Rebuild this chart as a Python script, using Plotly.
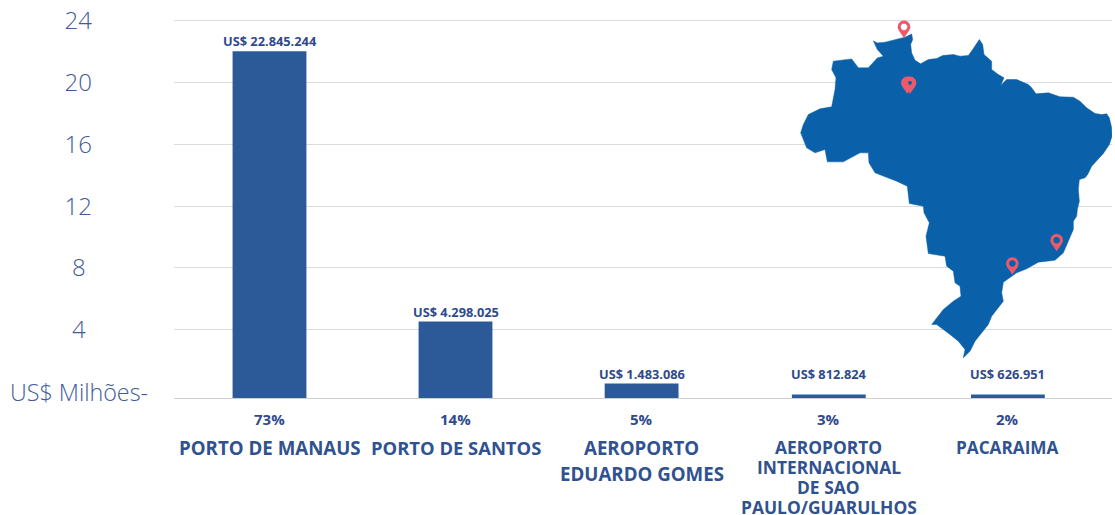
import numpy as np
import plotly.graph_objects as go

# ---- data -------------------------------------------------------------
categories = ["PORTO DE MANAUS", "PORTO DE SANTOS", "AEROPORTO EDUARDO GOMES",
              "AEROPORTO INTERNACIONAL DE SAO PAULO/GUARULHOS", "PACARAIMA"]
category_lines = [["PORTO DE MANAUS"], ["PORTO DE SANTOS"], ["AEROPORTO", "EDUARDO GOMES"],
                  ["AEROPORTO", "INTERNACIONAL", "DE SAO", "PAULO/GUARULHOS"], ["PACARAIMA"]]
bar_heights = [22.42, 4.95, 0.94, 0.23, 0.23]   # as drawn in the picture, above the baseline
value_labels = ["US$ 22.845.244", "US$ 4.298.025", "US$ 1.483.086", "US$ 812.824", "US$ 626.951"]
share_labels = ["73%", "14%", "5%", "3%", "2%"]
y_ticks = [4, 8, 12, 16, 20, 24]
y_unit_label = "US$ Milhões-"

# Brazil silhouette, in local map units
map_x = [250,262,285,320,345,365,368,362,365,375,392,415,440,458,490,510,535,548,568,578,582,605,605,625,642,632,650,680,715,725,738,775,810,850,870,890,915,935,950,958,965,966,958,940,920,905,893,885,868,865,868,862,860,850,850,835,820,795,745,710,680,640,635,640,625,605,595,575,555,540,520,525,505,480,460,440,425,440,460,490,513,510,495,490,470,465,415,408,412,418,402,400,358,352,320,255,237,235,210,160,112,105,75,50,32,40,55,90,125,135,138,125,130,185,205,235,262,280,262,250]
map_y = [124,130,128,120,113,103,120,135,160,182,193,180,177,168,165,170,168,150,120,135,165,185,210,225,235,258,240,240,255,265,283,280,292,293,305,325,342,345,343,355,385,410,435,462,482,500,525,535,540,570,605,630,650,665,690,725,760,782,788,808,820,848,880,905,925,950,975,1000,1025,1055,1075,1050,1025,1005,990,975,975,955,930,905,890,860,850,815,800,770,762,710,690,670,640,620,612,560,545,520,490,460,460,487,487,450,460,445,400,375,345,328,322,270,235,210,185,178,205,205,175,170,150,124]
pin_x = [342, 352, 360, 800, 667]
pin_y = [82, 250, 250, 722, 792]
pin_hole_color = ["#ffffff", "#0a60a9", "#0a60a9", "#0a60a9", "#0a60a9"]
pin_hole_radius = [10, 0, 6, 10, 10]

# ---- style / layout ----------------------------------------------------
W, H = 1115, 515
unit_px = (392.2 - 21) / 24          # pixels per axis unit
L, R, T, B = 174, 1112, 21 - 0.1 * unit_px, 398.5
FONT = "Open Sans"
TICK = "#3f5b9a"
NAVY = "#2f4a8c"
CAT = "#30528f"
BAR = "#2c5a98"
MAP = "#0a60a9"
PIN = "#ea5a6a"
GRID = "#dcdcdc"
base = -(B - 392.2) / unit_px        # baseline sits just under zero
step = 184.6                         # pixels per category
shift = [0, 1.4, 2.9, 5.5, 0]        # horizontal nudges of the columns, px
label_gap = [-1, -2, -2, 9, 9]       # extra gap bar -> value label, px
cat_size = [18.7, 18.4, 18.7, 17.4, 17.2]

fig = go.Figure()
fig.add_trace(go.Bar(
    x=categories, y=bar_heights, base=base, width=0.4,
    offset=[-0.2 + s / step for s in shift],
    marker=dict(color=BAR, line_width=0), hoverinfo="skip", showlegend=False))

# map on its own hidden axes
fig.add_trace(go.Scatter(x=map_x, y=map_y, xaxis="x2", yaxis="y2", mode="lines",
                         fill="toself", fillcolor=MAP, line=dict(color=MAP, width=0.5),
                         hoverinfo="skip", showlegend=False))
for px, py, hole, hr in zip(pin_x, pin_y, pin_hole_color, pin_hole_radius):
    a = np.linspace(np.radians(-35), np.radians(215), 40)
    hx = px + 19 * np.cos(a)
    hy = py - 19 * np.sin(a)
    fig.add_trace(go.Scatter(x=list(hx) + [px, hx[0]], y=list(hy) + [py + 33, hy[0]],
                             xaxis="x2", yaxis="y2", mode="lines", fill="toself",
                             fillcolor=PIN, line=dict(color=PIN, width=0),
                             hoverinfo="skip", showlegend=False))
    if hr:
        c = np.linspace(0, 2 * np.pi, 30)
        fig.add_trace(go.Scatter(x=px + hr * np.cos(c), y=py + hr * np.sin(c),
                                 xaxis="x2", yaxis="y2", mode="lines", fill="toself",
                                 fillcolor=hole, line=dict(color=hole, width=0),
                                 hoverinfo="skip", showlegend=False))

ann = []
for i, cat in enumerate(categories):
    ann.append(dict(x=cat, y=bar_heights[i] + base, text=f"<b>{value_labels[i]}</b>",
                    xref="x", yref="y", showarrow=False, xanchor="center", yanchor="bottom",
                    xshift=shift[i], yshift=label_gap[i],
                    font=dict(family=FONT, size=12.8, color=NAVY)))
    ann.append(dict(x=cat, y=0, yref="paper", xref="x", text=f"<b>{share_labels[i]}</b>",
                    showarrow=False, xanchor="center", yanchor="middle",
                    xshift=shift[i], yshift=-20.5,
                    font=dict(family=FONT, size=15, color=NAVY)))
    gap = 26 if len(category_lines[i]) == 2 else 20
    for j, line in enumerate(category_lines[i]):
        ann.append(dict(x=cat, y=0, yref="paper", xref="x", text=f"<b>{line}</b>",
                        showarrow=False, xanchor="center", yanchor="middle",
                        xshift=shift[i], yshift=-(49 + j * gap), borderpad=0,
                        font=dict(family=FONT, size=cat_size[i], color=CAT)))
ann.append(dict(x=0, y=0, xref="paper", yref="y", text=y_unit_label, showarrow=False,
                xanchor="right", yanchor="middle", xshift=150 - L,
                font=dict(family=FONT, size=23.3, color=TICK, weight=300)))

fig.update_layout(
    width=W, height=H, autosize=False, template=None,
    paper_bgcolor="white", plot_bgcolor="rgba(0,0,0,0)", showlegend=False,
    margin=dict(l=L, r=W - R, t=T, b=H - B, pad=0),
    annotations=ann,
    font=dict(family=FONT),
    xaxis=dict(type="category", range=[-95.5 / step, (R - 269.5) / step],
               showgrid=False, showline=True, linecolor="#cfcfcf", linewidth=1,
               ticks="", showticklabels=False, zeroline=False, fixedrange=True),
    yaxis=dict(range=[base, 24.1], tickmode="array", tickvals=y_ticks,
               ticktext=[f"{t}" if t >= 10 else f"{t}\u00a0" for t in y_ticks],
               showgrid=True, gridcolor=GRID, gridwidth=1, zeroline=False, showline=False,
               ticks="", ticklabelstandoff=81,
               tickfont=dict(family=FONT, size=24, color=TICK, weight=300), fixedrange=True),
    # map axes: local units are 3 per pixel, measured from x=790 and the page top
    xaxis2=dict(domain=[(790 - L) / (R - L), 1], range=[0, (R - 790) * 3], visible=False,
                anchor="y2", fixedrange=True),
    yaxis2=dict(domain=[0, 1], range=[B * 3, T * 3], visible=False,
                anchor="x2", fixedrange=True),
)
fig.update_traces(cliponaxis=False, selector=dict(type="scatter"))
fig.write_html("out.html", config=dict(displayModeBar=False),
               post_script="document.body.style.margin='0';")
